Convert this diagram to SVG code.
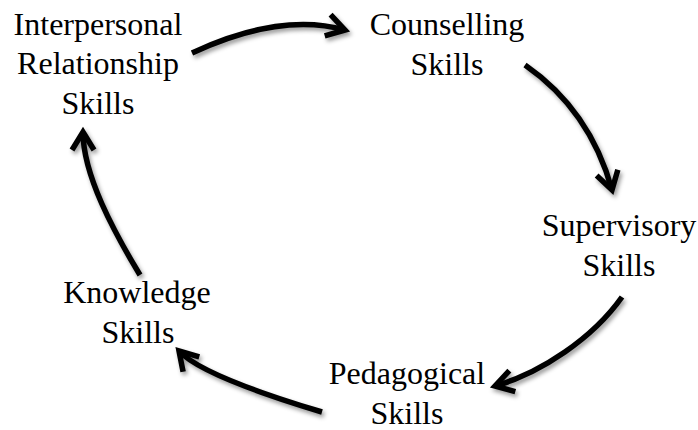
<svg xmlns="http://www.w3.org/2000/svg" width="698" height="430" viewBox="0 0 698 430">
  <style>
    .lbl { font-family: "Liberation Serif", "Times New Roman", serif; font-size: 32px; fill: #000; text-anchor: middle; }
    .arc { fill: none; stroke: #000; stroke-width: 5.5; stroke-linecap: butt; marker-end: url(#chev); }
  </style>
  <defs>
    <filter id="shadow" x="-20%" y="-20%" width="140%" height="140%">
      <feDropShadow dx="2" dy="3" stdDeviation="2" flood-color="#000" flood-opacity="0.4"/>
    </filter>
    <marker id="chev" markerUnits="userSpaceOnUse" orient="auto" refX="0" refY="0" markerWidth="40" markerHeight="40" viewBox="-25 -20 40 40" overflow="visible">
      <path d="M-18,-11 L0,0 L-18,11" fill="none" stroke="#000" stroke-width="5.5" stroke-linejoin="miter"/>
    </marker>
  </defs>

  <rect width="698" height="430" fill="#fff"/>

  <!-- cycle connectors -->
  <g id="connectors" filter="url(#shadow)">
    <path class="arc" d="M192,53 Q280,12 345,30"/>
    <path class="arc" d="M525,65 Q590,110 612,190"/>
    <path class="arc" d="M622,297 C593,338 541,373 495,386"/>
    <path class="arc" d="M322,412 Q202,376 179,351"/>
    <path class="arc" d="M140,275 C114,232 83,175 83,132"/>
  </g>

  <g id="interpersonal">
    <text class="lbl" x="98" y="35">Interpersonal</text>
    <text class="lbl" x="98" y="74">Relationship</text>
    <text class="lbl" x="98" y="114">Skills</text>
  </g>
  <g id="counselling">
    <text class="lbl" x="447" y="35">Counselling</text>
    <text class="lbl" x="447" y="75">Skills</text>
  </g>
  <g id="supervisory">
    <text class="lbl" x="619" y="236">Supervisory</text>
    <text class="lbl" x="619" y="276">Skills</text>
  </g>
  <g id="pedagogical">
    <text class="lbl" x="407" y="384">Pedagogical</text>
    <text class="lbl" x="407" y="424">Skills</text>
  </g>
  <g id="knowledge">
    <text class="lbl" x="137" y="303">Knowledge</text>
    <text class="lbl" x="138" y="343">Skills</text>
  </g>
</svg>
